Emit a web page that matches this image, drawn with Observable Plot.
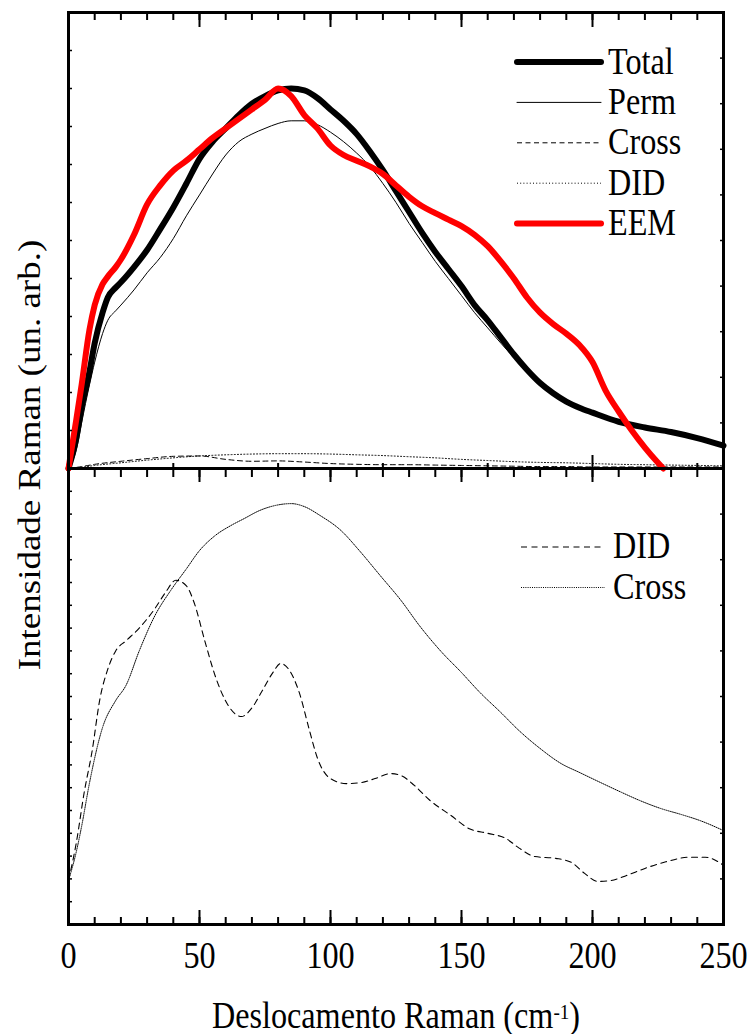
<!DOCTYPE html>
<html>
<head>
<meta charset="utf-8">
<script src="https://cdn.jsdelivr.net/npm/d3@7"></script>
<script src="https://cdn.jsdelivr.net/npm/@observablehq/plot@0.6"></script>
<style>
  html, body { margin: 0; padding: 0; background: #fff; }
  #chart { position: relative; width: 750px; height: 1034px; color: #000;
           font-family: "Liberation Serif", "Times New Roman", serif; }
  #chart svg { position: absolute; left: 0; overflow: visible; }
  #chart text { font-family: "Liberation Serif", "Times New Roman", serif; }
  .ylabel { position: absolute; left: 29px; top: 455px; white-space: nowrap;
            font-size: 37px; line-height: 37px;
            transform: translate(-50%, -50%) rotate(-90deg) scaleY(0.87); }
  .xlabel { position: absolute; left: 395.5px; top: 997px; white-space: nowrap;
            font-size: 37px; line-height: 37px;
            transform: translateX(-50%) scaleX(0.87); }
  .xlabel sup { font-size: 22px; position: relative; top: -4px; vertical-align: top; }
</style>
</head>
<body>
<div id="chart"></div>
<script>
// Raman shift (cm^-1) sampling of the upper-panel Total and Perm spectra
const shiftTop = [0, 3, 5, 8, 10, 13, 15, 18, 20,
  25, 30, 35, 40, 45, 50, 55, 60, 65, 70, 75, 80, 85, 90, 95, 100, 105, 110, 115, 120,
  125, 130, 135, 140, 145, 150, 155, 160, 165, 170, 175, 180, 185, 190, 195, 200,
  210, 220, 230, 240, 250];
const total = [0, 0.8, 1.6, 2.55, 3.3, 4.1, 4.5, 4.76, 4.9,
  5.3, 5.75, 6.3, 6.87, 7.5, 8.15, 8.6, 8.95, 9.3, 9.6, 9.8, 9.95, 10.0, 9.95, 9.75, 9.45, 9.15, 8.8, 8.35, 7.85,
  7.3, 6.75, 6.2, 5.7, 5.25, 4.8, 4.3, 3.9, 3.45, 3.0, 2.6, 2.25, 1.98, 1.76, 1.6, 1.47,
  1.23, 1.08, 0.96, 0.8, 0.6];
const perm = [0, 0.5, 1.2, 2.2, 2.8, 3.55, 3.9, 4.15, 4.3,
  4.7, 5.15, 5.55, 6.05, 6.65, 7.2, 7.75, 8.25, 8.6, 8.8, 8.95, 9.08, 9.15, 9.15, 9.05, 8.85, 8.6, 8.3, 7.95, 7.5,
  7.0, 6.45, 5.95, 5.45, 5.0, 4.55, 4.1, 3.7, 3.3, 2.92, 2.55, 2.22, 1.96, 1.75, 1.59, 1.46,
  1.22, 1.07, 0.95, 0.79, 0.6];

// EEM spectrum (upper panel)
const shiftEEM = [0, 3, 5, 8, 10, 13, 15, 18, 20,
  25, 30, 35, 40, 45, 50, 55, 60, 65, 70, 75, 80, 85, 90, 95, 100, 105, 110, 115, 120,
  125, 130, 135, 140, 145, 150, 155, 160, 165, 170, 175, 180, 185, 190, 195, 200,
  205, 210, 215, 220, 225, 227];
const eem = [0, 1.3, 2.2, 3.65, 4.3, 4.85, 5.05, 5.3, 5.5,
  6.15, 6.95, 7.45, 7.84, 8.1, 8.4, 8.7, 8.95, 9.2, 9.45, 9.7, 10.0, 9.8, 9.3, 8.95, 8.5, 8.25, 8.1, 7.95, 7.75,
  7.45, 7.15, 6.9, 6.72, 6.55, 6.38, 6.15, 5.85, 5.45, 5.0, 4.5, 4.1, 3.8, 3.55, 3.25, 2.8,
  2.05, 1.5, 1.0, 0.55, 0.15, 0];

// Small Cross and DID contributions in the upper panel
const shiftSmall = [0, 5, 10, 20, 30, 40, 50, 60, 70, 80, 90, 100, 110, 120, 130,
  140, 150, 160, 170, 180, 190, 200, 210, 220, 230, 240, 250];
const crossTop = [0, 0.05, 0.11, 0.19, 0.26, 0.32, 0.33, 0.24, 0.19, 0.2, 0.17, 0.13, 0.11, 0.1, 0.1,
  0.09, 0.08, 0.07, 0.06, 0.05, 0.05, 0.04, 0.04, 0.04, 0.04, 0.04, 0.04];
const didTop = [0, 0.03, 0.08, 0.15, 0.22, 0.28, 0.33, 0.36, 0.38, 0.39, 0.39, 0.38, 0.36, 0.34, 0.31,
  0.28, 0.24, 0.21, 0.18, 0.16, 0.15, 0.13, 0.11, 0.1, 0.09, 0.08, 0.07];

// Lower panel: DID and Cross shown on their own scale
const shiftDID = [0, 3, 6, 9, 12, 15, 18, 22, 27, 33, 37, 41, 45, 48, 52, 56, 61, 66, 70, 74,
  78, 81, 84, 88, 92, 95, 100, 106, 112, 117, 123, 127, 132, 138, 146, 153, 160, 167, 172, 178,
  186, 192, 197, 202, 207, 213, 220, 228, 237, 243, 250];
const didBottom = [1.93, 3.6, 5.8, 7.6, 9.9, 11.2, 12.0, 12.45, 13.0, 13.86, 14.56, 15.1, 14.85, 14.1, 12.45, 10.9, 9.6, 9.12, 9.5, 10.26,
  11.05, 11.45, 11.2, 10.2, 8.5, 7.3, 6.4, 6.18, 6.23, 6.4, 6.62, 6.53, 6.1, 5.44, 4.78, 4.2, 4.0, 3.77, 3.35, 2.98,
  2.9, 2.72, 2.24, 1.89, 1.93, 2.15, 2.46, 2.75, 2.95, 2.95, 2.6];
const shiftCross = [0, 3, 5, 8, 13, 18, 22, 27, 33, 39, 45, 50, 56, 62, 67, 73, 79, 85, 90, 96,
  104, 111, 119, 127, 134, 142, 150, 157, 165, 172, 180, 188, 195, 203, 211, 218, 226, 234, 241, 250];
const crossBottom = [1.93, 3.2, 4.3, 6.2, 8.64, 9.82, 10.5, 12.0, 13.55, 14.65, 15.6, 16.4, 17.06, 17.5, 17.8, 18.16, 18.38, 18.46, 18.33, 17.94,
  17.28, 16.4, 15.3, 14.2, 13.1, 12.0, 11.05, 10.18, 9.3, 8.5, 7.72, 7.06, 6.67, 6.23, 5.8, 5.44, 5.09, 4.82, 4.56, 4.12];

// Axis ticks and labels
const xLabels = [0, 50, 100, 150, 200, 250];
const xMinor = d3.range(0, 251, 10);
const xMajor = [0, 50, 100, 150, 200, 250];
const xUpperSecondary = [40, 80, 120, 160, 240];
const xUpperSecondaryMajor = [200];
const yTopLeft = d3.range(0, 12.001, 1);
const yTopRight = d3.range(0, 12.001, 1.2);
const yBottomLeft = d3.range(0, 20.001, 1);
const yBottomRight = d3.range(0, 20.001, 2);

const topLegend = ["Total", "Perm", "Cross", "DID", "EEM"];
const bottomLegend = ["DID", "Cross"];

const serif = "Liberation Serif, Times New Roman, serif";

const styles = {
  Total: {stroke: "#000", strokeWidth: 6},
  Perm: {stroke: "#000", strokeWidth: 1},
  Cross: {stroke: "#000", strokeWidth: 1, strokeDasharray: "5,3.5"},
  DID: {stroke: "#000", strokeWidth: 1, strokeDasharray: "1,2.2"},
  EEM: {stroke: "#ff0000", strokeWidth: 6}
};
const stylesBottom = {
  DID: {stroke: "#000", strokeWidth: 1.1, strokeDasharray: "6,4.5"},
  Cross: {stroke: "#000", strokeWidth: 1, strokeDasharray: "1,1.2"}
};

const blank = () => "";
const tick = (data, opts) => Plot.axisX(data, {tickFormat: blank, label: null, strokeWidth: 2, ...opts});
const tickY = (data, opts) => Plot.axisY(data, {tickFormat: blank, label: null, strokeWidth: 1.5, ...opts});
const lineOpts = {curve: "monotone-x", strokeLinecap: "round", strokeLinejoin: "round"};

const upper = Plot.plot({
  width: 750, height: 468,
  marginTop: 12, marginRight: 27, marginBottom: 0, marginLeft: 68,
  style: {background: "transparent", overflow: "visible", fontFamily: serif},
  x: {domain: [0, 250], axis: null},
  y: {domain: [0, 12], axis: null},
  marks: [
    Plot.line(perm, {x: shiftTop, y: perm, ...styles.Perm, ...lineOpts}),
    Plot.line(crossTop, {x: shiftSmall, y: crossTop, ...styles.Cross, ...lineOpts}),
    Plot.line(didTop, {x: shiftSmall, y: didTop, ...styles.DID, ...lineOpts}),
    Plot.line(total, {x: shiftTop, y: total, ...styles.Total, ...lineOpts}),
    Plot.line(eem, {x: shiftEEM, y: eem, ...styles.EEM, ...lineOpts}),
    tick(xMinor, {anchor: "top", tickSize: -7}),
    tick(xMajor, {anchor: "top", tickSize: -14}),
    tick(xUpperSecondary, {anchor: "bottom", tickSize: -5}),
    tick(xUpperSecondaryMajor, {anchor: "bottom", tickSize: -13}),
    tickY(yTopLeft, {anchor: "left", tickSize: -4}),
    tickY(yTopRight, {anchor: "right", tickSize: -4}),
    Plot.frame({strokeWidth: 3})
  ]
});

const lower = Plot.plot({
  width: 750, height: 566,
  marginTop: 0, marginRight: 27, marginBottom: 110, marginLeft: 68,
  style: {background: "transparent", overflow: "visible", fontFamily: serif},
  x: {domain: [0, 250], axis: null},
  y: {domain: [0, 20], axis: null},
  marks: [
    Plot.line(crossBottom, {x: shiftCross, y: crossBottom, ...stylesBottom.Cross, ...lineOpts}),
    Plot.line(didBottom, {x: shiftDID, y: didBottom, ...stylesBottom.DID, ...lineOpts}),
    tick(xMinor, {anchor: "top", tickSize: -8}),
    tick(xMajor, {anchor: "top", tickSize: -13}),
    tick(xMinor, {anchor: "bottom", tickSize: -7}),
    tick(xMajor, {anchor: "bottom", tickSize: -14}),
    Plot.axisX(xLabels, {anchor: "bottom", tickSize: 0, tickPadding: 17, fontSize: 37, label: null,
      fontFamily: serif}),
    tickY(yBottomLeft, {anchor: "left", tickSize: -4}),
    tickY(yBottomRight, {anchor: "right", tickSize: -4}),
    Plot.frame({strokeWidth: 3})
  ]
});

const chart = document.getElementById("chart");
upper.style.top = "0px";
lower.style.top = "468px";
chart.appendChild(upper);
chart.appendChild(lower);

// Tick numbers are set in a narrow serif: squeeze horizontally around each anchor
d3.select(lower).selectAll('g[aria-label="x-axis tick label"] text').each(function () {
  const t = this.getAttribute("transform") || "";
  this.setAttribute("transform", t + " scale(0.87,1)");
});

// Legends drawn inside the panels
function legend(svg, names, styleMap, {x1, x2, tx, y0, dy, shift}) {
  const g = d3.select(svg).append("g")
    .attr("font-family", serif)
    .attr("font-size", 37)
    .attr("text-anchor", "start");
  names.forEach((name, i) => {
    const y = y0 + i * dy;
    const s = styleMap[name];
    g.append("line")
      .attr("x1", x1).attr("x2", x2).attr("y1", y).attr("y2", y)
      .attr("stroke", s.stroke).attr("stroke-width", s.strokeWidth)
      .attr("stroke-dasharray", s.strokeDasharray || null)
      .attr("stroke-linecap", s.strokeDasharray ? "butt" : "round");
    g.append("text")
      .attr("transform", `translate(${tx},${y + shift}) scale(0.87,1)`)
      .attr("text-anchor", "start")
      .attr("fill", "#000")
      .text(name);
  });
}
legend(upper, topLegend, styles, {x1: 517, x2: 601, tx: 608, y0: 62, dy: 40.4, shift: 11.5});
legend(lower, bottomLegend, stylesBottom, {x1: 521, x2: 605, tx: 613, y0: 79, dy: 40.5, shift: 11});

// Axis titles
const yl = document.createElement("div");
yl.className = "ylabel";
yl.textContent = "Intensidade Raman (un. arb.)";
chart.appendChild(yl);
const xl = document.createElement("div");
xl.className = "xlabel";
xl.innerHTML = "Deslocamento Raman (cm<sup>-1</sup>)";
chart.appendChild(xl);
</script>
</body>
</html>
